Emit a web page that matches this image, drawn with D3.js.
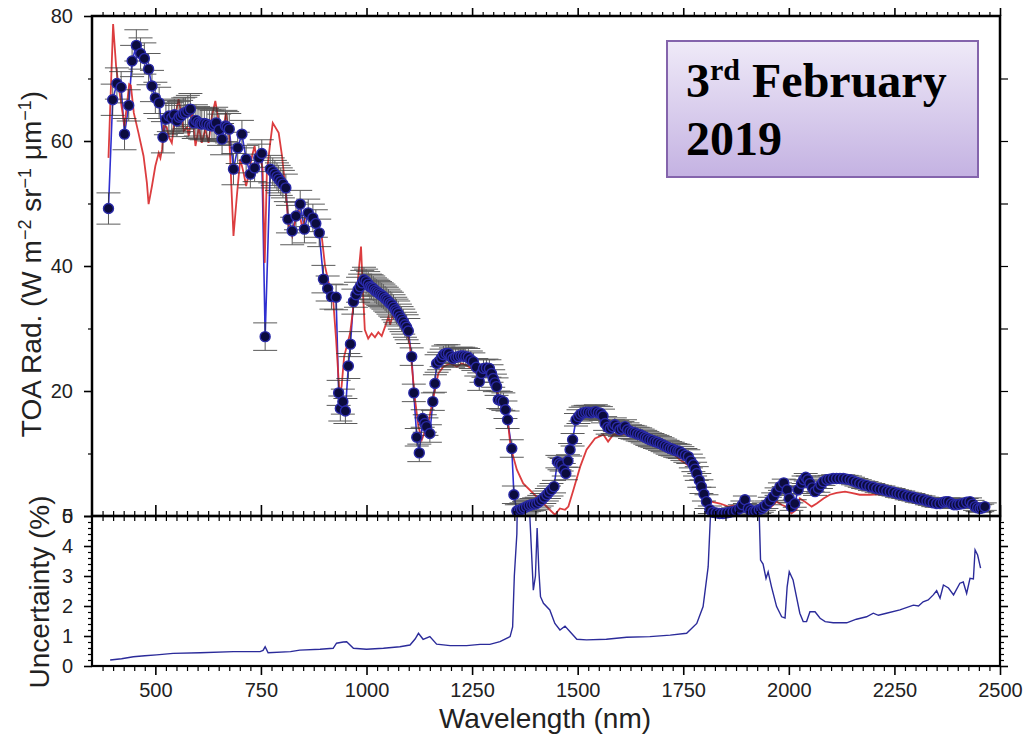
<!DOCTYPE html>
<html><head><meta charset="utf-8">
<script src="https://cdn.jsdelivr.net/npm/d3@7"></script>
<style>
html,body{margin:0;padding:0;background:#fff;}
svg{display:block;}
text{font-family:"Liberation Sans",Arial,Helvetica,sans-serif;}
</style></head>
<body>
<svg id="chart" width="1025" height="741"></svg>
<script>
// ---------- DATA ----------
// Measured TOA radiance: [wavelength nm, radiance W m-2 sr-1 um-1]
const measured = [
[389,49.2],[399,66.6],[409,69.2],[419,68.6],[427,61.1],[437,65.7],[445,72.8],[455,75.3],[465,74.0],[474,73.2],
[484,71.5],[492,68.8],[500,66.9],[509,66.1],[518,60.6],[525,63.5],[532,64.0],[539,63.7],[545,64.2],[551,63.2],
[556,63.8],[561,64.0],[566,64.4],[571,64.5],[577,64.8],[583,65.1],[591,62.9],[596,63.3],[601,63.0],[606,62.8],
[610,62.7],[616,62.8],[622,62.7],[628,62.5],[634,62.4],[639,62.6],[644,62.9],[651,61.8],[658,60.3],[666,62.4],
[670,62.2],[675,61.9],[685,55.5],[695,58.9],[705,61.1],[715,57.1],[725,54.7],[735,55.7],[745,57.3],[752,58.0],
[760,28.7],[772,55.5],[778,55.1],[783,54.7],[788,54.3],[792,53.9],[797,53.5],[802,53.1],[809,52.5],[814,47.5],
[824,45.6],[833,48.0],[843,49.9],[853,45.9],[862,48.5],[873,47.7],[880,46.8],[888,45.3],[898,37.9],[908,36.4],
[917,35.1],[928,35.0],[934,19.7],[938,17.2],[944,18.3],[950,16.8],[957,24.0],[962,27.5],[969,34.3],[975,35.4],
[980,36.2],[985,36.7],[990,37.3],[994,37.8],[999,37.5],[1004,37.1],[1008,36.7],[1012,36.6],[1016,36.4],[1020,36.1],
[1024,35.9],[1028,35.7],[1032,35.5],[1036,35.3],[1040,35.1],[1044,34.8],[1048,34.6],[1052,34.3],[1056,34.0],[1060,33.8],
[1064,33.4],[1068,33.0],[1071,32.7],[1075,32.4],[1079,31.9],[1083,31.5],[1087,31.1],[1091,30.6],[1095,30.2],[1099,29.6],
[1107,25.5],[1112,19.7],[1119,12.6],[1125,10.1],[1133,15.6],[1138,14.8],[1142,14.3],[1150,13.2],[1157,18.3],[1162,21.2],
[1166,24.4],[1172,24.8],[1178,25.3],[1182,25.8],[1188,26.0],[1194,26.0],[1200,25.5],[1205,25.2],[1211,25.4],[1217,25.5],
[1223,25.6],[1229,25.6],[1235,25.5],[1241,25.4],[1247,25.0],[1253,24.7],[1260,23.8],[1267,21.5],[1272,22.8],[1277,23.6],
[1284,23.7],[1291,23.6],[1296,22.8],[1300,22.0],[1304,21.3],[1308,20.7],[1312,18.6],[1318,18.5],[1324,18.3],[1329,17.0],
[1334,15.4],[1344,10.8],[1349,3.4],[1356,0.8],[1362,0.9],[1367,1.1],[1373,1.3],[1379,1.5],[1385,1.7],[1391,1.8],
[1397,1.9],[1403,2.0],[1409,2.3],[1415,2.6],[1421,3.0],[1427,3.4],[1432,3.8],[1438,4.2],[1444,4.7],[1452,8.7],
[1457,8.4],[1462,8.2],[1467,7.4],[1472,6.8],[1477,8.8],[1482,10.6],[1488,12.2],[1496,15.4],[1502,15.9],[1507,16.3],
[1513,16.5],[1519,16.6],[1525,16.6],[1531,16.5],[1537,16.6],[1543,16.7],[1549,16.5],[1555,16.4],[1560,16.0],[1565,14.8],
[1571,14.2],[1577,14.0],[1583,14.3],[1588,14.6],[1594,14.2],[1600,13.8],[1606,14.0],[1612,14.3],[1618,13.8],[1624,13.5],
[1630,13.4],[1636,13.3],[1642,13.1],[1648,13.0],[1654,12.8],[1660,12.6],[1665,12.4],[1671,12.2],[1677,12.1],[1683,11.9],
[1689,11.8],[1695,11.6],[1701,11.4],[1707,11.2],[1713,11.0],[1719,10.8],[1725,10.7],[1731,10.5],[1737,10.4],[1742,10.3],
[1748,10.0],[1755,9.7],[1762,9.5],[1768,8.8],[1774,8.2],[1778,7.5],[1782,6.8],[1788,5.7],[1793,4.7],[1799,3.5],
[1805,2.3],[1813,1.0],[1820,0.6],[1828,0.5],[1836,0.4],[1844,0.4],[1852,0.5],[1860,0.6],[1868,0.7],[1876,0.9],
[1884,1.2],[1890,1.8],[1896,2.6],[1904,1.2],[1910,0.9],[1916,0.7],[1922,0.8],[1930,1.0],[1936,1.2],[1941,1.5],
[1947,1.8],[1955,2.4],[1963,3.1],[1971,3.9],[1979,4.7],[1988,5.3],[1996,4.2],[2001,2.8],[2006,1.5],[2014,2.0],
[2022,4.2],[2030,5.2],[2035,5.8],[2040,6.2],[2045,5.8],[2050,5.2],[2056,4.5],[2062,3.9],[2070,4.4],[2076,5.0],
[2082,5.5],[2090,5.8],[2097,5.9],[2105,6.0],[2113,6.0],[2121,6.0],[2129,6.0],[2137,5.9],[2145,5.8],[2152,5.6],
[2160,5.4],[2168,5.2],[2176,5.0],[2184,4.9],[2192,4.7],[2200,4.6],[2208,4.4],[2216,4.3],[2224,4.2],[2232,4.0],
[2240,3.9],[2248,3.8],[2256,3.6],[2263,3.5],[2271,3.4],[2279,3.2],[2287,3.1],[2295,3.0],[2303,2.8],[2311,2.7],
[2319,2.6],[2327,2.4],[2334,2.3],[2342,2.1],[2350,2.0],[2358,2.0],[2366,2.2],[2372,2.3],[2378,2.3],[2385,2.0],
[2391,1.8],[2398,1.8],[2405,1.9],[2413,2.0],[2421,2.2],[2429,2.3],[2435,1.9],[2441,1.5],[2447,1.3],[2453,1.2],
[2458,1.3],[2464,1.5]
];
// Error-bar half height (radiance units) by spectral band: [upper wavelength, error]
const errorBands = [[700,2.5],[900,2.2],[1100,2.0],[1350,1.4],[1500,1.0],[1810,1.1],[2500,0.6]];

// Simulated TOA radiance (red line): [wavelength nm, radiance]
const simulated = [
[389,57.3],[400,78.7],[407,72.0],[413,68.8],[421,65.1],[427,62.4],[433,66.0],[438,69.1],[442,68.9],[449,64.5],
[460,61.3],[472,57.6],[480,53.3],[484,49.9],[492,52.8],[500,56.0],[508,58.1],[512,57.3],[516,58.7],[520,62.4],
[527,62.2],[533,60.5],[539,59.7],[547,64.0],[555,66.7],[561,64.5],[567,61.6],[575,62.2],[579,60.8],[587,64.5],
[595,59.2],[603,62.2],[610,59.7],[618,61.9],[626,59.7],[634,64.0],[642,66.4],[648,64.0],[654,61.1],[662,62.2],
[667,64.5],[674,61.9],[677,57.6],[685,44.8],[693,51.2],[701,57.1],[709,54.9],[715,52.8],[720,54.4],[729,57.6],
[735,59.2],[742,56.0],[748,57.6],[754,55.5],[759,40.5],[764,54.9],[772,59.7],[778,62.9],[792,61.3],[800,57.6],
[808,52.3],[816,46.4],[824,44.8],[832,47.4],[840,48.7],[848,46.1],[856,48.0],[866,47.8],[876,47.2],[886,45.8],
[894,44.7],[902,39.9],[914,36.2],[921,34.6],[928,28.2],[936,19.6],[941,20.7],[947,25.5],[953,27.1],[961,29.2],
[969,33.5],[977,35.6],[981,38.8],[987,43.1],[991,36.7],[996,29.8],[1004,28.4],[1012,29.2],[1020,28.6],[1028,29.4],
[1036,28.8],[1044,30.3],[1052,31.9],[1056,30.6],[1063,32.4],[1071,31.5],[1083,30.8],[1095,29.8],[1103,27.1],[1109,22.8],
[1115,18.6],[1123,14.3],[1131,12.2],[1138,13.5],[1146,14.8],[1154,17.5],[1162,20.2],[1170,22.8],[1182,23.9],[1198,24.4],
[1214,23.9],[1225,24.4],[1237,24.1],[1249,23.6],[1261,22.8],[1273,23.1],[1285,22.8],[1296,21.8],[1308,19.9],[1324,18.1],
[1336,14.3],[1341,11.1],[1356,7.4],[1371,5.2],[1395,3.6],[1419,2.0],[1434,1.0],[1446,0.2],[1458,1.2],[1470,1.0],
[1478,1.5],[1490,4.2],[1506,7.9],[1521,10.6],[1541,12.4],[1561,13.0],[1572,11.9],[1584,13.0],[1600,13.0],[1616,13.2],
[1630,12.9],[1650,12.5],[1675,11.9],[1700,11.2],[1720,10.4],[1742,9.0],[1766,7.9],[1782,5.8],[1797,3.6],[1817,2.3],
[1837,2.0],[1857,1.5],[1868,1.7],[1884,1.0],[1900,0.7],[1916,1.1],[1931,1.5],[1947,1.0],[1959,1.5],[1971,2.3],
[1983,1.8],[1994,1.5],[2006,0.4],[2018,1.0],[2026,2.8],[2038,2.3],[2054,1.5],[2066,2.0],[2082,2.8],[2097,3.4],
[2113,3.7],[2133,3.9],[2148,3.7],[2168,3.4],[2192,3.4],[2220,3.5],[2250,3.3],[2280,3.0],[2310,2.6],[2340,2.2],
[2370,2.0],[2400,1.7],[2430,1.8],[2450,1.3],[2464,1.3]
];

// Uncertainty (%) (lower panel): [wavelength nm, uncertainty %]; values >5 are off-scale
const uncertainty = [
[393,0.20],[420,0.24],[448,0.31],[475,0.34],[503,0.37],[542,0.42],[606,0.44],[685,0.48],[748,0.48],[755,0.52],
[760,0.64],[767,0.44],[820,0.48],[842,0.53],[890,0.56],[921,0.59],[929,0.76],[945,0.80],[953,0.81],[969,0.59],
[1000,0.56],[1040,0.59],[1079,0.64],[1103,0.70],[1115,0.90],[1123,1.09],[1134,0.89],[1150,0.98],[1166,0.73],[1198,0.68],
[1237,0.68],[1269,0.72],[1292,0.72],[1316,0.81],[1340,0.98],[1346,1.30],[1350,3.0],[1356,4.4],[1360,8],[1380,8],
[1385,5.5],[1395,2.53],[1400,3.0],[1404,4.6],[1408,3.2],[1412,2.31],[1419,2.09],[1434,1.87],[1446,1.42],[1458,1.20],
[1470,1.33],[1482,1.14],[1498,0.89],[1521,0.87],[1568,0.89],[1616,0.96],[1671,0.98],[1719,1.03],[1758,1.09],[1782,1.42],
[1797,1.98],[1809,3.31],[1815,5.2],[1820,8],[1925,8],[1930,5.0],[1933,3.53],[1939,3.40],[1946,2.92],[1951,3.14],
[1959,2.64],[1971,1.98],[1983,1.64],[1991,1.60],[1996,2.64],[2001,3.14],[2010,2.87],[2018,2.31],[2026,1.76],[2034,1.48],
[2042,1.48],[2050,1.81],[2062,1.81],[2074,1.59],[2086,1.48],[2105,1.44],[2137,1.44],[2160,1.56],[2184,1.64],[2200,1.76],
[2212,1.69],[2231,1.76],[2263,1.87],[2295,2.03],[2307,2.00],[2318,2.14],[2330,2.20],[2342,2.37],[2350,2.51],[2358,2.26],
[2366,2.70],[2378,2.60],[2390,2.37],[2405,2.76],[2413,2.80],[2421,2.42],[2429,2.92],[2437,2.90],[2441,3.87],[2447,3.70],
[2454,3.26]
];

const xMajorTicks = [500,750,1000,1250,1500,1750,2000,2250,2500];
const radMajorTicks = [0,20,40,60,80];
const uncMajorTicks = [0,1,2,3,4,5];
const dateLabel = {day:"3", suffix:"rd", month:" February", year:"2019"};

// ---------- LAYOUT ----------
const L=92, R=1000, T1=16, B1=516, B2=666;
const svg = d3.select("#chart");
svg.append("rect").attr("width",1025).attr("height",741).attr("fill","#fff");

const x = d3.scaleLinear().domain([350,2500]).range([L,R]);
const y1 = d3.scaleLinear().domain([0,80]).range([B1,T1]);
const y2 = d3.scaleLinear().domain([0,5]).range([B2,B1]);

const xMinor = d3.range(375,2500,25).filter(v=>v%250!==0);
const radMinor = [10,30,50,70];
const uncMinor = d3.range(0,5.01,0.2).map(v=>+v.toFixed(1)).filter(v=>Math.abs(v-Math.round(v))>1e-6);

const defs = svg.append("defs");
defs.append("clipPath").attr("id","clipTop").append("rect").attr("x",L).attr("y",T1).attr("width",R-L).attr("height",B1-T1);
defs.append("clipPath").attr("id","clipBot").append("rect").attr("x",L).attr("y",B1).attr("width",R-L).attr("height",B2-B1);
const grad = defs.append("linearGradient").attr("id","boxGrad").attr("x1",0).attr("y1",0).attr("x2",0).attr("y2",1);
grad.append("stop").attr("offset","0%").attr("stop-color","#efeaf8");
grad.append("stop").attr("offset","100%").attr("stop-color","#c4b2e2");

function styleAxis(g, sw){
  g.select(".domain").remove();
  g.selectAll("line").attr("stroke","#000").attr("stroke-width",sw||1.2);
  g.selectAll("text").attr("fill","#222").style("font-size","20px").style("font-family",'"Liberation Sans",Arial,sans-serif');
}
function axis(gen, transform, sw){
  const g = svg.append("g").attr("transform",transform).call(gen);
  styleAxis(g, sw);
  return g;
}

// ---------- TOP PANEL MARKS ----------
const errOf = wl => errorBands.find(b => wl <= b[0])[1];
const gTop = svg.append("g").attr("clip-path","url(#clipTop)");
const eb = svg.append("g").attr("stroke","#333").attr("stroke-width",1).attr("opacity",0.8);
measured.forEach(d=>{
  const e = errOf(d[0]);
  const cx = x(d[0]), yt = y1(d[1]+e), yb = y1(Math.max(0,d[1]-e));
  eb.append("line").attr("x1",cx).attr("x2",cx).attr("y1",yt).attr("y2",yb);
  eb.append("line").attr("x1",cx-12).attr("x2",cx+12).attr("y1",yt).attr("y2",yt);
  if (d[1]-e > 0) eb.append("line").attr("x1",cx-12).attr("x2",cx+12).attr("y1",yb).attr("y2",yb);
});
const line1 = d3.line().x(d=>x(d[0])).y(d=>y1(d[1]));
gTop.append("path").datum(measured).attr("d",line1).attr("fill","none").attr("stroke","#2f2fd0").attr("stroke-width",1.6);
gTop.append("path").datum(simulated).attr("d",line1).attr("fill","none").attr("stroke","#d8282a").attr("stroke-width",1.8).attr("opacity",0.9);
svg.append("g").selectAll("circle").data(measured).join("circle")
  .attr("cx",d=>x(d[0])).attr("cy",d=>y1(d[1])).attr("r",5)
  .attr("fill","#0c0c3e").attr("stroke","#2a2aa8").attr("stroke-width",1.4);

// ---------- BOTTOM PANEL MARKS ----------
const line2 = d3.line().x(d=>x(d[0])).y(d=>y2(d[1]));
svg.append("g").attr("clip-path","url(#clipBot)").append("path").datum(uncertainty)
  .attr("d",line2).attr("fill","none").attr("stroke","#2b2b9a").attr("stroke-width",1.4);

// ---------- FRAMES ----------
svg.append("rect").attr("x",L).attr("y",T1).attr("width",R-L).attr("height",B1-T1).attr("fill","none").attr("stroke","#000").attr("stroke-width",2.5);
svg.append("rect").attr("x",L).attr("y",B1).attr("width",R-L).attr("height",B2-B1).attr("fill","none").attr("stroke","#000").attr("stroke-width",2.2);

// ---------- AXES ----------
axis(d3.axisTop(x).tickValues(xMinor).tickSize(4).tickFormat(""), `translate(0,${T1})`);
axis(d3.axisTop(x).tickValues(xMajorTicks).tickSize(8).tickFormat(""), `translate(0,${T1})`,1.6);
axis(d3.axisTop(x).tickValues(xMinor).tickSize(5).tickFormat(""), `translate(0,${B1})`);
axis(d3.axisBottom(x).tickValues(xMinor).tickSize(5).tickFormat(""), `translate(0,${B1})`);
axis(d3.axisTop(x).tickValues(xMajorTicks).tickSize(11).tickFormat(""), `translate(0,${B1})`,1.6);
axis(d3.axisBottom(x).tickValues(xMajorTicks).tickSize(5).tickFormat(""), `translate(0,${B1})`,1.6);
axis(d3.axisBottom(x).tickValues(xMinor).tickSize(5).tickFormat(""), `translate(0,${B2})`);
axis(d3.axisBottom(x).tickValues(xMajorTicks).tickSize(9).tickPadding(8).tickFormat(d3.format("d")), `translate(0,${B2})`,1.6);

axis(d3.axisLeft(y1).tickValues(radMinor).tickSize(4).tickFormat(""), `translate(${L},0)`);
axis(d3.axisLeft(y1).tickValues(radMajorTicks).tickSize(8).tickPadding(11).tickFormat(d3.format("d")), `translate(${L},0)`,1.6);
axis(d3.axisRight(y1).tickValues(d3.range(10,80,10)).tickSize(8).tickFormat(""), `translate(${R},0)`);

axis(d3.axisLeft(y2).tickValues(uncMinor).tickSize(4).tickFormat(""), `translate(${L},0)`);
axis(d3.axisLeft(y2).tickValues(uncMajorTicks).tickSize(8).tickPadding(11).tickFormat(d3.format("d")), `translate(${L},0)`,1.6);
axis(d3.axisRight(y2).tickValues(uncMinor).tickSize(4).tickFormat(""), `translate(${R},0)`);
axis(d3.axisRight(y2).tickValues(uncMajorTicks.slice(0,5)).tickSize(8).tickFormat(""), `translate(${R},0)`,1.6);

// ---------- TITLES ----------
const t1 = svg.append("text").attr("transform","translate(41,264) rotate(-90)")
  .attr("text-anchor","middle").attr("fill","#222").style("font-size","28px");
t1.append("tspan").text("TOA Rad. (W m");
t1.append("tspan").attr("dy",-10).style("font-size","18px").text("\u22122");
t1.append("tspan").attr("dy",10).text(" sr");
t1.append("tspan").attr("dy",-10).style("font-size","18px").text("\u22121");
t1.append("tspan").attr("dy",10).text(" \u03bcm");
t1.append("tspan").attr("dy",-10).style("font-size","18px").text("\u22121");
t1.append("tspan").attr("dy",10).text(")");

svg.append("text").attr("transform","translate(49,592) rotate(-90)")
  .attr("text-anchor","middle").attr("fill","#222").style("font-size","28px").text("Uncertainty (%)");

svg.append("text").attr("x",545).attr("y",728).attr("text-anchor","middle")
  .attr("fill","#222").style("font-size","28px").text("Wavelength (nm)");

// ---------- DATE BOX ----------
svg.append("rect").attr("x",667).attr("y",41).attr("width",311).attr("height",136)
  .attr("fill","url(#boxGrad)").attr("stroke","#8464ac").attr("stroke-width",2);
const dt = svg.append("text").attr("x",686).attr("y",97).attr("fill","#000")
  .style("font-family",'"Liberation Serif","Times New Roman",serif').style("font-weight","bold").style("font-size","48px");
dt.append("tspan").text(dateLabel.day);
dt.append("tspan").attr("dy",-17).style("font-size","30px").text(dateLabel.suffix);
dt.append("tspan").attr("dy",17).text(dateLabel.month);
svg.append("text").attr("x",686).attr("y",155).attr("fill","#000")
  .style("font-family",'"Liberation Serif","Times New Roman",serif').style("font-weight","bold").style("font-size","48px")
  .text(dateLabel.year);
</script>
</body></html>
